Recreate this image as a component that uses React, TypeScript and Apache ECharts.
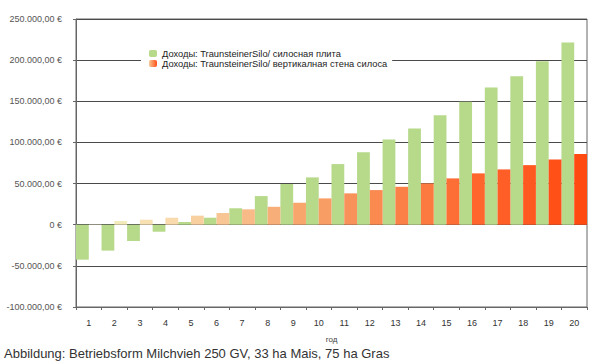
import React, { useEffect, useRef } from "react";
import * as echarts from "echarts";

const years = ["1","2","3","4","5","6","7","8","9","10","11","12","13","14","15","16","17","18","19","20"];
const slabValues = [-42500,-31500,-19800,-8500,3300,8500,20000,34800,49500,57500,73700,88200,103600,117000,133100,149300,166700,180400,198600,221400];
const wallValues = [500,4500,6100,8500,11000,14200,18700,21800,26700,32000,38100,42100,46100,50200,56300,62400,67200,72400,79400,85800];
const seriesNames = [
  "Доходы: TraunsteinerSilo/ силосная плита",
  "Доходы: TraunsteinerSilo/ вертикалная стена силоса",
];
const axisName = "год";
const caption = "Abbildung: Betriebsform Milchvieh 250 GV, 33 ha Mais, 75 ha Gras";
const yMin = -100000;
const yMax = 250000;
const yStep = 50000;

const green = "#b6d98a";
const orangeShades = [
  "#f6efc8","#f4ebbb","#f7e1b2","#f8daac","#f8d0a0","#f8c694","#f8ba86","#f8ae78",
  "#f8a66c","#f89e64","#f9925a","#fa8a50","#fb8048","#fc7a40","#fd6e36","#fe662e",
  "#ff5e26","#ff5820","#ff5018","#ff4a12",
];

function fmtEuro(v: number): string {
  if (v === 0) return "0 €";
  const neg = v < 0;
  const s = Math.abs(v).toFixed(0).replace(/\B(?=(\d{3})+(?!\d))/g, ".");
  return (neg ? "-" : "") + s + ",00 €";
}

export default function App() {
  const ref = useRef<HTMLDivElement>(null);
  useEffect(() => {
    if (!ref.current) return;
    const chart = echarts.init(ref.current, null, { renderer: "svg" });
    const font = "Liberation Sans, Arial, sans-serif";
    chart.setOption({
      animation: false,
      backgroundColor: "#ffffff",
      textStyle: { fontFamily: font },
      grid: {
        left: 76, right: 4, top: 19, bottom: 55,
        show: true, borderColor: "#666", borderWidth: 1,
      },
      legend: {
        left: 141, top: 46, orient: "vertical",
        backgroundColor: "#ffffff",
        padding: [3, 5, 3, 8], itemGap: 1,
        itemWidth: 8, itemHeight: 7,
        textStyle: { fontSize: 9.3, color: "#222", fontFamily: font },
        data: seriesNames,
      },
      xAxis: {
        type: "category",
        data: years,
        name: axisName,
        nameLocation: "middle",
        nameGap: 28,
        nameTextStyle: { fontSize: 8, color: "#444" },
        axisLine: { onZero: false, lineStyle: { color: "#666" } },
        axisTick: { show: true, length: 3, lineStyle: { color: "#666" } },
        axisLabel: { fontSize: 9, color: "#333", margin: 11 },
      },
      yAxis: {
        type: "value",
        min: yMin, max: yMax, interval: yStep,
        axisLine: { show: true, lineStyle: { color: "#666" } },
        axisTick: { show: true, length: 3, lineStyle: { color: "#666" } },
        axisLabel: { fontSize: 9, color: "#555", margin: 14, formatter: (v: number) => fmtEuro(v) },
        splitLine: { lineStyle: { color: "#4a4a4a", width: 1 } },
      },
      series: [
        {
          name: seriesNames[0],
          type: "bar",
          barGap: "0%",
          barCategoryGap: "0%",
          itemStyle: { color: green },
          data: slabValues,
        },
        {
          name: seriesNames[1],
          type: "bar",
          barGap: "0%",
          barCategoryGap: "0%",
          itemStyle: {
            color: new echarts.graphic.LinearGradient(0, 0, 1, 0, [
              { offset: 0, color: "#f8c894" },
              { offset: 1, color: "#ff5018" },
            ]),
          },
          data: wallValues.map((v, i) => ({ value: v, itemStyle: { color: orangeShades[i] } })),
        },
      ],
      graphic: [
        {
          type: "text",
          left: 4,
          top: 347,
          style: { text: caption, fontSize: 13, fill: "#333", fontFamily: font },
        },
      ],
    });
    return () => chart.dispose();
  }, []);
  return (
    <div
      ref={ref}
      style={{ position: "fixed", left: 0, top: 0, width: 591, height: 362 }}
    />
  );
}
